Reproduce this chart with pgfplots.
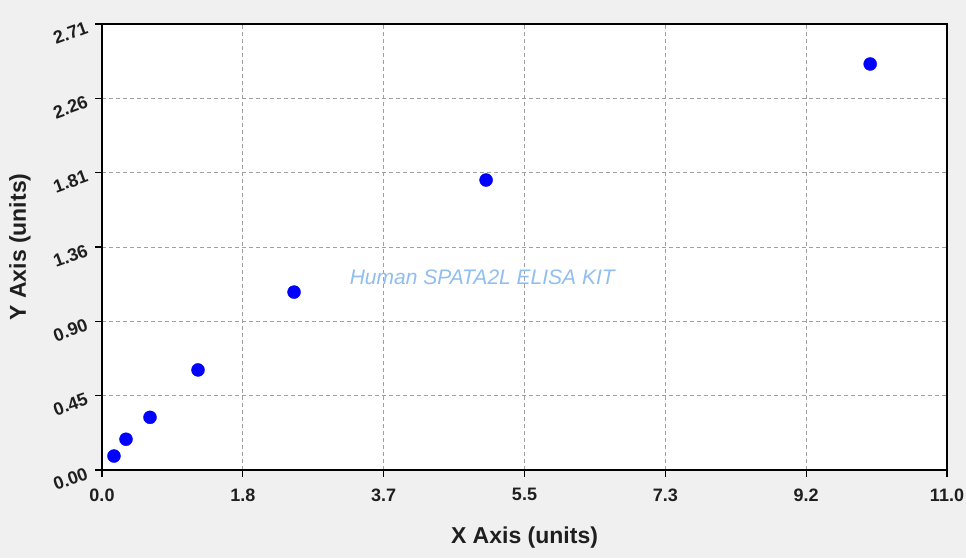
\documentclass[border=0pt]{standalone}
\usepackage{pgfplots}
\pgfplotsset{compat=1.18}
\usepackage{fontspec}
\setmainfont{Liberation Sans}
\definecolor{bggray}{RGB}{240,240,240}
\definecolor{gridgray}{RGB}{160,160,160}
\definecolor{markblue}{RGB}{0,0,255}
\definecolor{wmblue}{RGB}{145,190,240}

\begin{document}
\begin{tikzpicture}[x=1pt,y=1pt]
\fill[bggray] (0,0) rectangle (966,558);
\begin{axis}[
    at={(102pt,88pt)}, anchor=south west,
    scale only axis,
    width=845pt, height=446pt,
    xmin=0, xmax=11, ymin=0, ymax=2.71,
    axis background/.style={fill=white},
    axis line style={black, line width=1.6pt},
    xtick={0,1.83333,3.66667,5.5,7.33333,9.16667,11},
    xticklabels={0.0,1.8,3.7,5.5,7.3,9.2,11.0},
    ytick={0,0.451667,0.903333,1.355,1.806667,2.258333,2.71},
    yticklabels={0.00,0.45,0.90,1.36,1.81,2.26,2.71},
    minor tick num=3,
    tick pos=left,
    tick align=outside,
    major tick length=7pt, minor tick length=4pt,
    tick style={black, line width=1.2pt},
    grid=major,
    major grid style={gridgray, line width=0.9pt, dash pattern=on 4pt off 3pt},
    /pgf/number format/assume math mode=true,
    ticklabel style={font=\bfseries\fontsize{18}{18}\selectfont, text=black!88},
    xticklabel style={yshift=-8pt},
    yticklabel style={rotate=20, anchor=east, xshift=-5pt},
    xlabel={X Axis (units)},
    ylabel={Y Axis (units)},
    label style={font=\bfseries\fontsize{23}{23}\selectfont, text=black!88},
    xlabel style={at={(axis description cs:0.5,-0.1525)}, anchor=center},
    ylabel style={at={(axis description cs:-0.097,0.5)}, anchor=center, rotate=0},
    clip=false,
]
\addplot[only marks, mark=*, mark size=6.5pt, mark options={fill=markblue, draw=markblue}]
coordinates {
    (0.156,0.085) (0.3125,0.187) (0.625,0.320) (1.25,0.608)
    (2.5,1.081) (5,1.762) (10,2.467)
};
\node[font=\itshape\fontsize{21}{21}\selectfont, text=wmblue] at (axis cs:4.95,1.17) {Human SPATA2L ELISA KIT};
\end{axis}
\pgfresetboundingbox
\useasboundingbox (0,0) rectangle (966,558);
\end{tikzpicture}
\end{document}
